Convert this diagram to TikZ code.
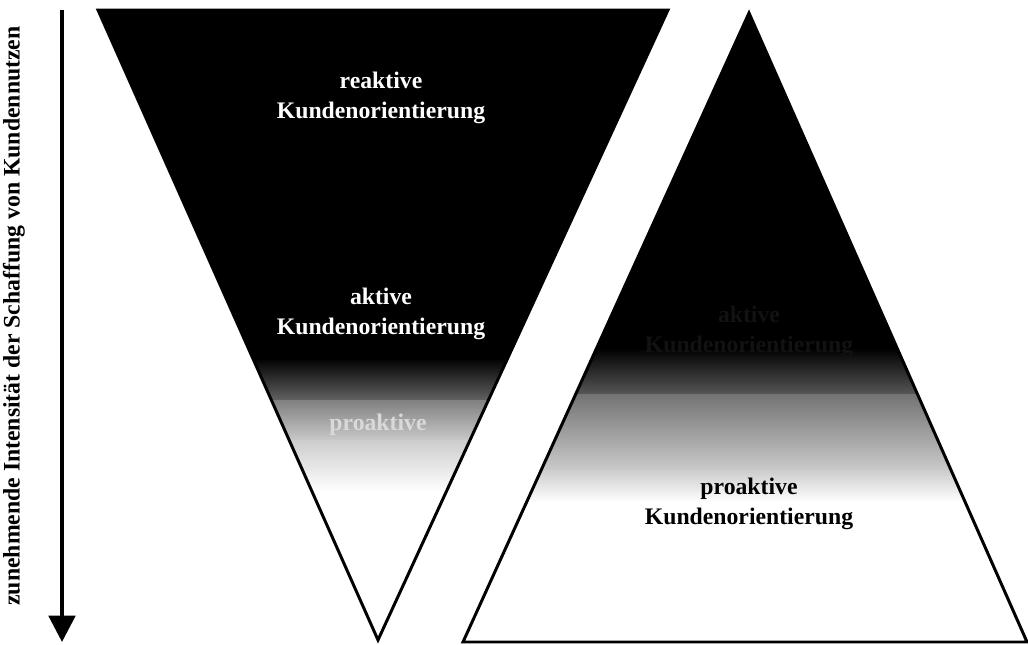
\documentclass[tikz,border=0pt]{standalone}
\usepackage{fontspec}
\setmainfont{Liberation Serif}
\usetikzlibrary{arrows.meta,positioning}

\begin{document}
\begin{tikzpicture}[x=0.02cm, y=-0.02cm,
    tri/.style={draw=black, line width=1.7pt, line join=miter},
    intext/.style={align=center, font=\bfseries\fontsize{13.5}{17}\selectfont},
    arrow/.style={line width=2.3pt, -{Triangle[length=15pt, width=15pt]}}]

\useasboundingbox (0,0) rectangle (1028,645);

% Corners
\coordinate (l1) at (98,10);
\coordinate (l2) at (668,10);
\coordinate (l3) at (378,640);
\coordinate (r1) at (749,13);
\coordinate (r2) at (1027,642);
\coordinate (r3) at (463,642);

% Left triangle, black fading to white
\begin{scope}
\clip (l1) -- (l2) -- (l3) -- cycle;
\fill[black] (90,0) rectangle (680,360);
\shade[top color=black, bottom color=black!60] (90,358) rectangle (680,402);
\shade[top color=black!50, bottom color=black!20] (90,400) rectangle (680,442);
\shade[top color=black!20, bottom color=white] (90,440) rectangle (680,492);
\end{scope}

% Right triangle, black fading to white
\begin{scope}
\clip (r1) -- (r2) -- (r3) -- cycle;
\fill[black] (450,0) rectangle (1030,350);
\shade[top color=black, bottom color=black!65] (450,348) rectangle (1030,396);
\shade[top color=black!55, bottom color=black!20] (450,394) rectangle (1030,472);
\shade[top color=black!20, bottom color=white] (450,470) rectangle (1030,502);
\end{scope}

\draw[tri] (l1) -- (l2) -- (l3) -- cycle;
\draw[tri] (r1) -- (r2) -- (r3) -- cycle;

% Texts
\node[intext, text=white] (reaktiv) at (381,98) {reaktive\\Kundenorientierung};
\node[intext, text=white] (aktiv) at (381,314) {aktive\\Kundenorientierung};
\node[intext, text=white!85!black] (proaktivl) at (378,425) {proaktive};
\node[intext, text=white!7!black] (aktivr) at (749,332) {aktive\\Kundenorientierung};
\node[intext, text=black] (proaktivr) at (749,504) {proaktive\\Kundenorientierung};

% Axis
\coordinate (atop) at (62,10);
\coordinate (abot) at (62,642);
\draw[arrow] (atop) -- (abot);
\node[rotate=90, font=\bfseries\fontsize{13.5}{15}\selectfont] (axis) at (14,316)
  {zunehmende Intensität der Schaffung von Kundennutzen};
\end{tikzpicture}
\end{document}
